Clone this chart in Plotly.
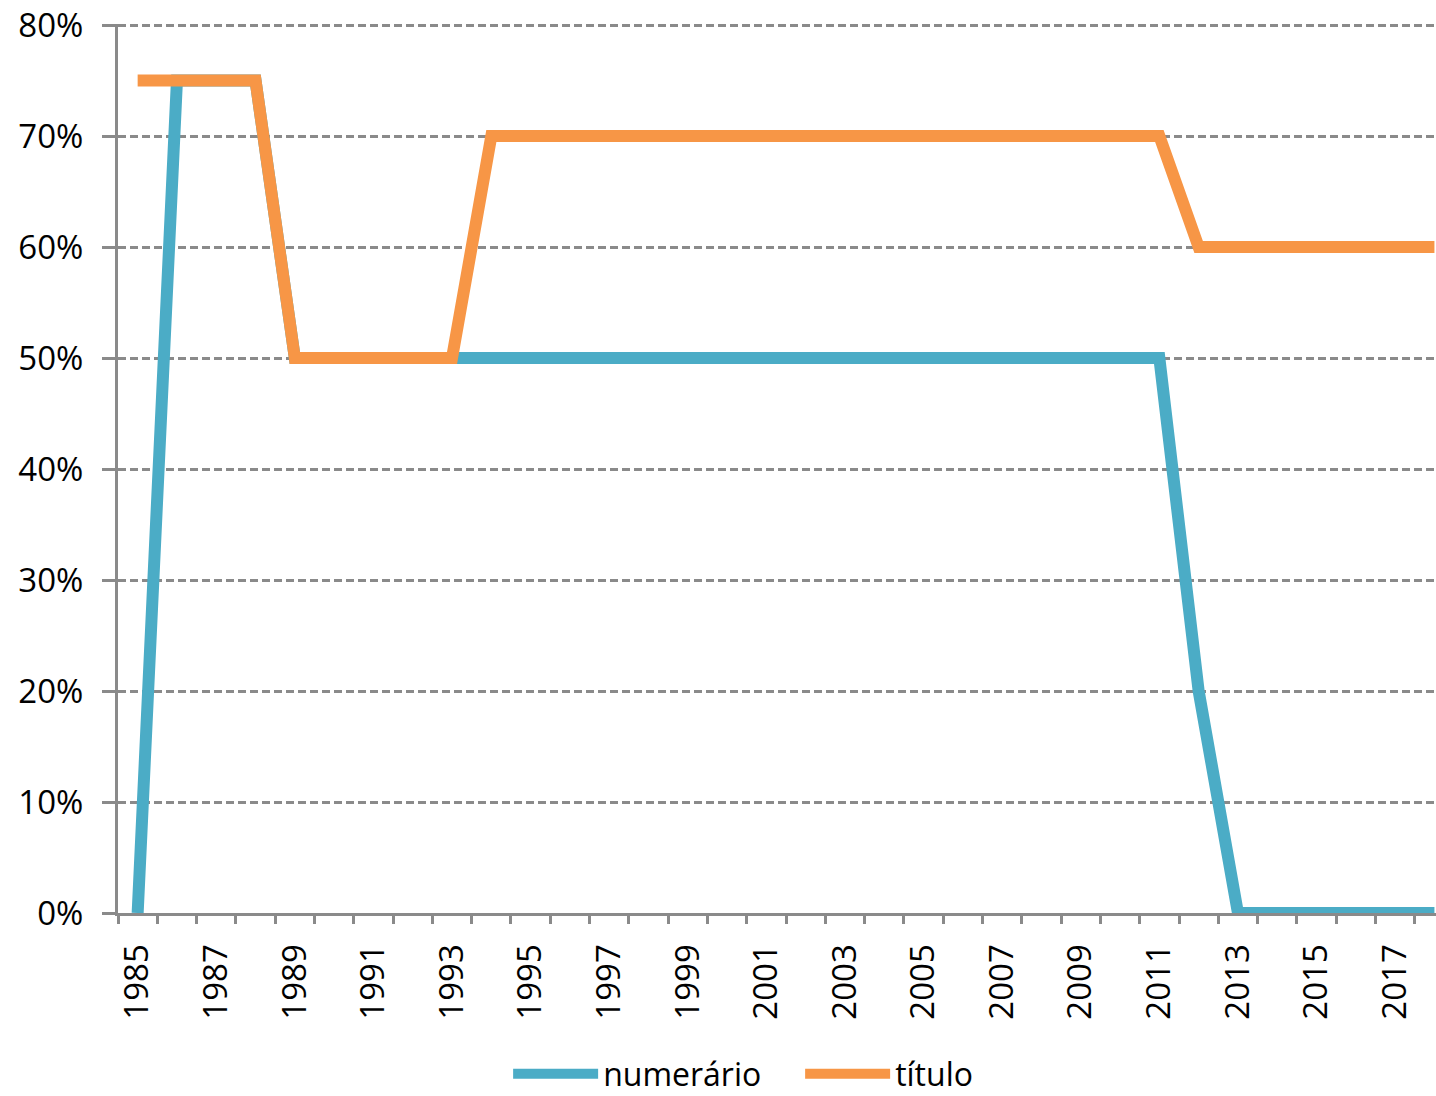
import plotly.graph_objects as go

years = list(range(1985, 2019))
numerario = [0, 75, 75, 75, 50, 50, 50, 50, 50, 50, 50, 50, 50, 50, 50, 50, 50,
             50, 50, 50, 50, 50, 50, 50, 50, 50, 50, 20, 0, 0, 0, 0, 0, 0]
titulo = [75, 75, 75, 75, 50, 50, 50, 50, 50, 70, 70, 70, 70, 70, 70, 70, 70,
          70, 70, 70, 70, 70, 70, 70, 70, 70, 70, 60, 60, 60, 60, 60, 60, 60]
label_years = list(range(1985, 2018, 2))
pct_ticks = list(range(0, 81, 10))

BLUE = "#4BACC6"
ORANGE = "#F79646"
AXIS = "#8A8A8A"
FONT = "Open Sans"

fig = go.Figure()
fig.add_trace(go.Scatter(x=years, y=numerario, name="numerário", mode="lines",
                         line=dict(color=BLUE, width=12), cliponaxis=False))
fig.add_trace(go.Scatter(x=years, y=titulo, name="título", mode="lines",
                         line=dict(color=ORANGE, width=12), cliponaxis=False))

xrange = [1984.5, 2018.04]

fig.update_layout(
    width=1436, height=1096,
    margin=dict(l=118, r=0, t=24, b=183, autoexpand=False),
    plot_bgcolor="white", paper_bgcolor="white",
    font=dict(family=FONT, size=33, color="black"),
    showlegend=True,
    legend=dict(orientation="h", x=0.296, xanchor="left", y=-0.181, yanchor="middle",
                font=dict(size=32), itemwidth=85, entrywidth=192, tracegroupgap=0),
    xaxis=dict(range=xrange, tickvals=label_years, ticktext=[str(y) for y in label_years],
               tickangle=-90, ticks="", showgrid=False, zeroline=False,
               showline=True, linecolor=AXIS, linewidth=3,
               ticklabelstandoff=15, tickfont=dict(size=33)),
    xaxis2=dict(range=xrange, overlaying="x", side="bottom", anchor="y",
                tickvals=[y - 0.5 for y in years] + [2018.5], ticks="outside",
                ticklen=10, tickwidth=3, tickcolor=AXIS, showticklabels=False,
                showgrid=False, zeroline=False, showline=False),
    yaxis=dict(range=[0, 80.1], tickvals=pct_ticks, ticktext=[f"{v}%" for v in pct_ticks],
               ticks="outside", ticklen=13, tickwidth=3, tickcolor=AXIS,
               showline=True, linecolor=AXIS, linewidth=3,
               showgrid=True, gridcolor=AXIS, gridwidth=2.5, griddash="8px,4px",
               zeroline=False, ticklabelstandoff=12, tickfont=dict(size=33)),
)
# invisible helper trace so the tick-only overlay axis is drawn
fig.add_trace(go.Scatter(x=[years[0]], y=[0], xaxis="x2", mode="markers",
                         marker=dict(opacity=0), showlegend=False, hoverinfo="skip"))

fig.write_html("out.html")
